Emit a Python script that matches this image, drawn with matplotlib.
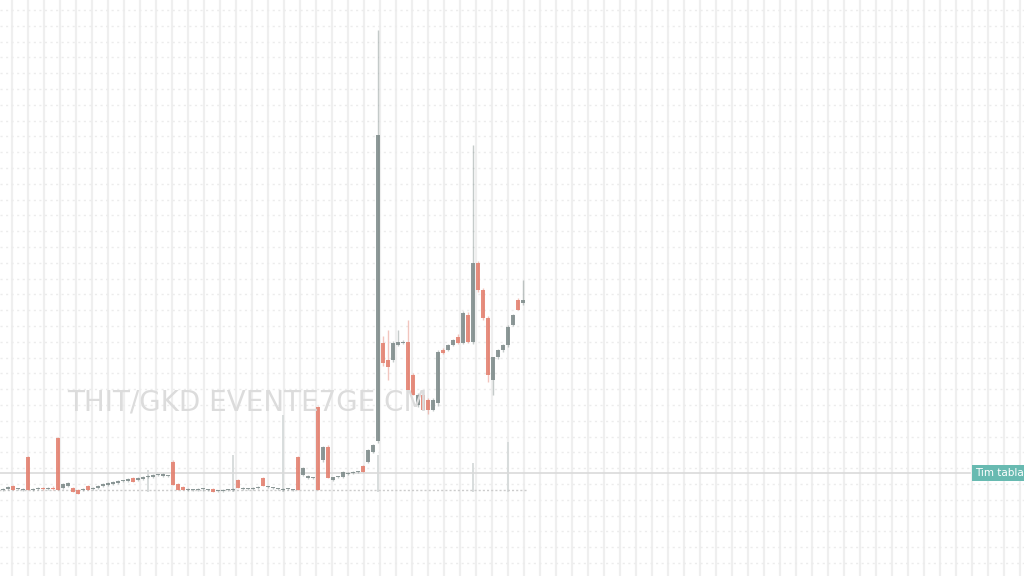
import numpy as np
import matplotlib
matplotlib.use("Agg")
import matplotlib.pyplot as plt

# candle data (arbitrary price units), one entry per bar
opens = [8.6, 8.7, 9.0, 8.7, 8.6, 11.9, 8.6, 8.7, 8.8, 8.7,
         8.8, 13.8, 8.8, 9.0, 8.8, 8.6, 8.6, 9.0, 8.7, 8.8,
         9.0, 9.1, 9.2, 9.3, 9.5, 9.5, 9.8, 9.6, 9.7, 9.9,
         9.9, 10.1, 10.0, 10.0, 11.4, 9.2, 8.9, 8.6, 8.6, 8.6,
         8.7, 8.6, 8.7, 8.5, 8.5, 8.6, 8.6, 9.6, 8.7, 8.7,
         8.7, 8.8, 9.8, 8.9, 8.8, 8.7, 8.6, 8.7, 8.6, 11.9,
         10.1, 9.8, 9.8, 16.9, 11.6, 12.9, 9.6, 9.9, 9.9, 10.2,
         10.3, 10.4, 11.0, 11.4, 12.4, 13.5, 23.3, 21.6, 21.6, 23.1,
         23.3, 23.4, 20.1, 17.1, 18.1, 17.6, 16.6, 17.3, 22.6, 22.6,
         23.1, 23.9, 23.3, 26.1, 23.4, 31.3, 28.6, 25.8, 19.6, 21.9,
         22.6, 23.1, 25.1, 27.6, 27.3]
highs = [8.8, 9.0, 9.1, 8.8, 8.8, 12.0, 8.8, 8.9, 8.9, 8.9,
         9.0, 13.9, 9.3, 9.4, 8.9, 8.7, 8.8, 9.1, 8.9, 9.1,
         9.3, 9.4, 9.5, 9.6, 9.6, 9.8, 9.9, 9.9, 10.0, 10.1,
         10.2, 10.2, 10.3, 10.1, 11.6, 9.3, 9.0, 8.8, 8.7, 8.8,
         8.8, 8.7, 8.8, 8.6, 8.7, 8.7, 8.8, 9.7, 8.9, 8.8,
         8.9, 9.0, 9.9, 9.0, 8.9, 8.8, 8.8, 8.8, 8.7, 12.0,
         10.9, 10.1, 9.9, 17.0, 13.0, 13.1, 9.9, 10.0, 10.5, 10.4,
         10.5, 10.5, 11.1, 12.7, 13.2, 54.6, 24.0, 24.6, 23.5, 24.6,
         23.6, 25.6, 20.3, 18.3, 18.3, 17.8, 17.8, 22.6, 22.8, 23.2,
         23.7, 24.2, 26.5, 26.4, 43.1, 31.5, 28.8, 26.0, 21.9, 22.7,
         23.2, 25.1, 26.2, 27.8, 29.6]
lows = [8.5, 8.6, 8.6, 8.6, 8.5, 8.6, 8.5, 8.6, 8.6, 8.6,
        8.6, 8.6, 8.7, 8.9, 8.4, 8.2, 8.5, 8.6, 8.6, 8.7,
        8.9, 9.0, 9.1, 9.2, 9.4, 9.4, 9.4, 9.5, 9.6, 9.8,
        9.8, 10.0, 9.9, 9.9, 9.1, 8.6, 8.6, 8.5, 8.5, 8.5,
        8.5, 8.5, 8.4, 8.4, 8.4, 8.5, 8.5, 8.8, 8.6, 8.6,
        8.6, 8.7, 9.0, 8.8, 8.7, 8.6, 8.5, 8.6, 8.5, 8.6,
        10.0, 9.7, 9.7, 8.6, 11.4, 9.8, 9.5, 9.8, 9.8, 10.1,
        10.2, 10.3, 10.4, 11.3, 12.3, 13.3, 21.0, 19.6, 21.4, 23.0,
        23.2, 18.4, 18.1, 16.9, 16.6, 16.2, 16.5, 17.0, 22.2, 22.5,
        23.0, 23.2, 23.2, 23.3, 23.2, 28.4, 25.6, 19.4, 18.1, 21.7,
        22.4, 22.9, 25.0, 26.6, 27.1]
closes = [8.7, 8.9, 8.6, 8.7, 8.7, 8.6, 8.7, 8.8, 8.7, 8.8,
          8.7, 8.6, 9.2, 9.3, 8.4, 8.2, 8.7, 8.6, 8.8, 9.0,
          9.2, 9.3, 9.4, 9.5, 9.5, 9.7, 9.4, 9.8, 9.9, 10.0,
          10.1, 10.1, 10.2, 10.0, 9.1, 8.6, 8.6, 8.7, 8.6, 8.7,
          8.7, 8.6, 8.4, 8.5, 8.6, 8.6, 8.7, 8.8, 8.8, 8.7,
          8.8, 8.9, 9.0, 8.9, 8.8, 8.7, 8.7, 8.7, 8.6, 8.6,
          10.8, 10.0, 9.8, 8.6, 12.9, 9.8, 9.9, 9.9, 10.4, 10.2,
          10.3, 10.4, 10.4, 12.6, 13.1, 44.1, 21.3, 20.9, 23.3, 23.4,
          23.4, 18.6, 18.1, 18.1, 16.6, 16.6, 17.6, 22.4, 22.3, 23.1,
          23.6, 23.3, 26.3, 23.4, 31.3, 28.6, 25.8, 20.1, 21.9, 22.6,
          23.1, 24.9, 26.1, 26.6, 27.6]
# faint volume bars (height above the base line)
volume = {29: 2.2, 46: 3.7, 56: 7.7, 75: 3.7, 94: 2.9, 101: 5.0}

base_level = 8.4
last_price = 10.3
watermark = "THIT/GKD EVENTE7GE CM"
price_label = "Tim tabla"

up_color = "#7f8c8b"
down_color = "#e3806f"

fig = plt.figure(figsize=(10.24, 5.76), dpi=100)
ax = fig.add_axes([0, 0, 1, 1])
ax.set_xlim(-0.6, 204.2)
ax.set_ylim(0, 57.6)

# background grid: light columns, dotted rows
for gx in np.arange(1.8, 204.2, 3.2):
    ax.axvline(gx, color="#efefef", lw=1.6, zorder=0)
for gy in np.arange(56.6, 0, -1.58):
    ax.axhline(gy, color="#ececec", lw=1.0, ls=(0, (1.5, 2.5)), zorder=0)

idx = np.arange(len(opens))
# volume
for i, v in volume.items():
    ax.vlines(i, base_level, base_level + v, color="#d6dada", lw=1.3, zorder=1)

# dotted base line and last price line
ax.plot([-1, 105], [8.6, 8.6], color="#cccccc", lw=1, ls=(0, (1.5, 1.5)), zorder=1)
ax.plot([-1, 193.4], [last_price, last_price], color="#dadada", lw=1.2, zorder=1)

for i in idx:
    o, h, l, c = opens[i], highs[i], lows[i], closes[i]
    col = up_color if c >= o else down_color
    ax.vlines(i, l, h, color=col, lw=1, alpha=0.45, zorder=2)
    lo, hi = min(o, c), max(o, c)
    if hi - lo < 0.15:
        hi = lo + 0.15
    ax.bar(i, hi - lo, bottom=lo, width=0.7, color=col, alpha=0.88,
           linewidth=0, zorder=3)

ax.text(0.066, 0.302, watermark, transform=ax.transAxes, fontsize=20,
        color="#dcdcdc", va="center", ha="left", zorder=4)

ax.text(0.952, last_price, price_label, transform=ax.get_yaxis_transform(),
        fontsize=7.5, color="white", va="center", ha="left", zorder=5,
        bbox=dict(boxstyle="square,pad=0.3", facecolor="#68bab1", edgecolor="none"))

ax.axis("off")
fig.savefig("out.png", dpi=100, facecolor="white")
